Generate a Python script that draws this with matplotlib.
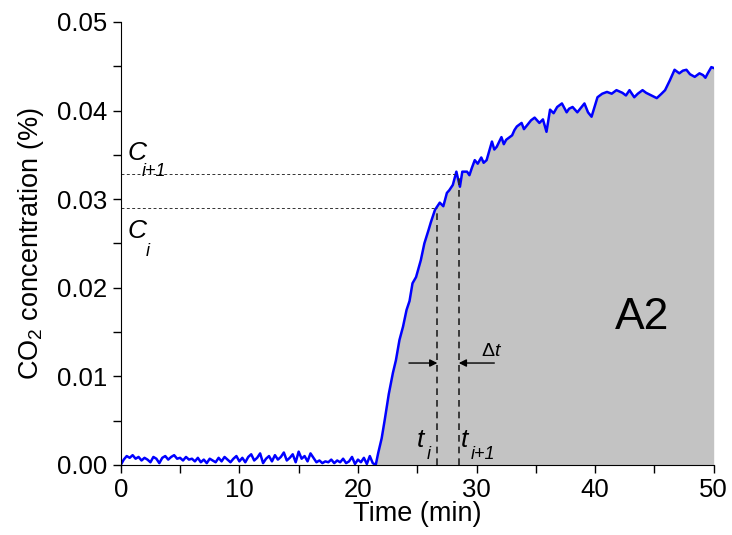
import numpy as np
import matplotlib
matplotlib.use("Agg")
import matplotlib.pyplot as plt

plt.rcParams['font.family'] = ['Liberation Sans', 'DejaVu Sans']
plt.rcParams['mathtext.fontset'] = 'custom'
plt.rcParams['mathtext.rm'] = 'Liberation Sans'
plt.rcParams['mathtext.it'] = 'Liberation Sans:italic'

# baseline before the CO2 breakthrough (sampled every 0.25 min)
base_t = np.arange(0, 21.75, 0.25)
base_c = np.array([
    0.0, 0.6, 1.0, 0.8, 1.1, 0.7, 0.9, 0.5, 0.8, 0.6, 0.3, 0.9, 0.7, 0.2, 0.8,
    1.0, 0.6, 0.9, 1.1, 0.7, 0.8, 0.5, 0.9, 0.6, 0.7, 0.4, 0.8, 0.3, 0.6, 0.2,
    0.7, 0.5, 0.3, 0.8, 0.4, 0.9, 0.6, 0.3, 0.7, 1.0, 0.4, 0.8, 0.3, 0.9, 1.2,
    0.5, 0.8, 1.3, 0.2, 0.7, 1.0, 0.4, 1.1, 0.6, 0.9, 1.4, 0.5, 0.8, 1.2, 0.3,
    1.5, 0.7, 1.0, 0.4, 1.3, 0.8, 0.3, 0.5, 0.2, 0.4, 0.3, 0.6, 0.2, 0.5, 0.3,
    0.7, 0.2, 0.4, 0.9, 0.1, 0.6, 0.3, 0.8, 0.1, 1.0, 0.2, 0.0]) * 1e-3

# rise and plateau
rise_t = [21.7, 22.0, 22.26, 22.6, 22.95, 23.2, 23.5, 23.8, 24.1, 24.35, 24.6,
          24.9, 25.3, 25.6, 25.95, 26.15, 26.5, 26.9, 27.2, 27.5, 27.7, 28.0,
          28.3, 28.6, 28.8, 29.2, 29.4, 29.6, 29.85, 30.1, 30.4, 30.6, 30.85,
          31.3, 31.5, 31.7, 32.1, 32.3, 32.5, 33.0, 33.2, 33.4, 33.8, 34.0,
          34.3, 34.6, 34.9, 35.3, 35.6, 35.9, 36.2, 36.5, 36.8, 37.2, 37.6,
          37.8, 38.1, 38.5, 38.8, 39.1, 39.4, 39.7, 40.2, 40.6, 41.0, 41.4,
          41.8, 42.3, 42.6, 42.9, 43.3, 43.6, 44.0, 44.3, 44.6, 45.2, 45.6,
          45.9, 46.3, 46.5, 46.7, 47.1, 47.4, 47.7, 48.0, 48.4, 48.8, 49.1,
          49.3, 49.5, 49.8, 50.0]
rise_c = [0.0013, 0.0030, 0.0051, 0.0080, 0.0104, 0.0118, 0.0141, 0.0156,
          0.0175, 0.0185, 0.0205, 0.0212, 0.0231, 0.0250, 0.0265, 0.0274,
          0.0288, 0.0296, 0.0292, 0.0307, 0.0310, 0.0316, 0.0331, 0.0314,
          0.0331, 0.0331, 0.0327, 0.0335, 0.0344, 0.0340, 0.0347, 0.0341,
          0.0344, 0.0365, 0.0356, 0.0359, 0.0370, 0.0362, 0.0367, 0.0372,
          0.0378, 0.0382, 0.0386, 0.0379, 0.0384, 0.0389, 0.0392, 0.0386,
          0.0390, 0.0376, 0.0401, 0.0397, 0.0404, 0.0408, 0.0398, 0.0402,
          0.0404, 0.0398, 0.0403, 0.0408, 0.0398, 0.0393, 0.0415, 0.0419,
          0.0421, 0.0419, 0.0423, 0.0420, 0.0417, 0.0423, 0.0415, 0.0419,
          0.0423, 0.0420, 0.0418, 0.0414, 0.0419, 0.0423, 0.0434, 0.0440,
          0.0446, 0.0442, 0.0445, 0.0446, 0.0441, 0.0438, 0.0442, 0.0440,
          0.0437, 0.0442, 0.0449, 0.0448]

t = np.concatenate([base_t, rise_t])
c = np.concatenate([base_c, rise_c])

t_i, t_i1 = 26.7, 28.5
c_i, c_i1 = 0.0290, 0.0328

fig = plt.figure(figsize=(7.32, 5.35), dpi=100)
ax = fig.add_axes([0.165, 0.131, 0.81, 0.828])

mask = t >= 21.5
ax.fill_between(t[mask], 0, c[mask], color='#c3c3c3', lw=0)
ax.plot(t, c, color='#0000ff', lw=1.8)

# construction lines
ax.plot([0, 26.5], [c_i, c_i], color='#333333', lw=0.7, ls=(0, (3, 2.5)))
ax.plot([0, 28.2], [c_i1, c_i1], color='#333333', lw=0.7, ls=(0, (3, 2.5)))
ax.plot([t_i, t_i], [0, c_i], color='#222222', lw=1.2, ls=(0, (4, 3)))
ax.plot([t_i1, t_i1], [0, c_i1], color='#222222', lw=1.2, ls=(0, (4, 3)))

arr = dict(arrowstyle='-|>', color='k', lw=1, mutation_scale=11, shrinkA=0, shrinkB=0)
ax.annotate('', xy=(t_i, 0.0115), xytext=(24.3, 0.0115), arrowprops=arr)
ax.annotate('', xy=(t_i1, 0.0115), xytext=(31.5, 0.0115), arrowprops=arr)
ax.text(31.3, 0.0128, r'$\Delta t$', fontsize=14, ha='center', va='center')

# labels with subscripts
ax.text(0.6, 0.0352, 'C', fontsize=19, style='italic', ha='left', va='center')
ax.text(1.8, 0.0331, 'i+1', fontsize=13, style='italic', ha='left', va='center')
ax.text(0.6, 0.0264, 'C', fontsize=19, style='italic', ha='left', va='center')
ax.text(2.1, 0.0241, 'i', fontsize=13, style='italic', ha='left', va='center')
ax.text(25.0, 0.0028, 't', fontsize=19, style='italic', ha='left', va='center')
ax.text(25.8, 0.0012, 'i', fontsize=13, style='italic', ha='left', va='center')
ax.text(28.7, 0.0028, 't', fontsize=19, style='italic', ha='left', va='center')
ax.text(29.5, 0.0012, 'i+1', fontsize=13, style='italic', ha='left', va='center')
ax.text(44.0, 0.0166, 'A2', fontsize=32, ha='center', va='center')

ax.set_xlim(0, 50)
ax.set_ylim(0, 0.05)
ax.set_xticks([0, 10, 20, 30, 40, 50])
ax.set_xticks([5, 15, 25, 35, 45], minor=True)
ax.set_yticks([0, 0.01, 0.02, 0.03, 0.04, 0.05])
ax.set_yticks([0.005, 0.015, 0.025, 0.035, 0.045], minor=True)
ax.set_yticklabels(['0.00', '0.01', '0.02', '0.03', '0.04', '0.05'])
ax.tick_params(which='both', direction='out', length=6, width=1, labelsize=18.5)
ax.spines['top'].set_visible(False)
ax.spines['right'].set_visible(False)
ax.set_xlabel('Time (min)', fontsize=19.5, labelpad=-1)
ax.set_ylabel('CO$_2$ concentration (%)', fontsize=19.5, labelpad=8)

fig.savefig('out.png', dpi=100)
